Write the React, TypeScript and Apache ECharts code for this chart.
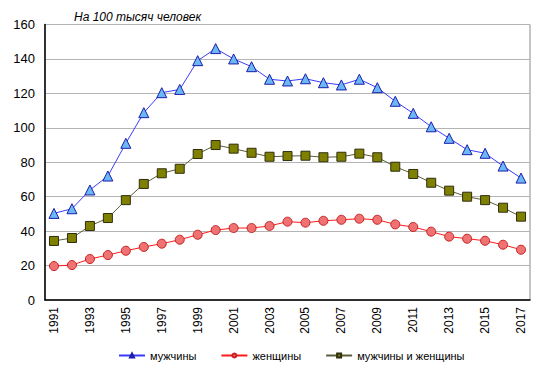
import React, { useEffect, useRef } from "react";
import * as echarts from "echarts";

const years = ["1991","1992","1993","1994","1995","1996","1997","1998","1999","2000","2001","2002","2003","2004","2005","2006","2007","2008","2009","2010","2011","2012","2013","2014","2015","2016","2017"];
const men = [50.3,53,63.9,72,91,108.8,120.4,122.3,139,146,140,135.5,128.2,127.2,128.5,126.2,124.9,128.2,123.3,115.4,108.4,100.6,93.9,87.3,85.2,77.8,70.8];
const women = [19.7,20.3,23.8,26.1,28.6,30.8,32.7,35,37.9,40.6,41.8,41.8,43,45.5,44.9,46,46.6,47.2,46.6,43.9,42.4,39.7,36.8,35.6,34.4,32.1,29.2];
const total = [34.3,36,43,47.6,58,67.4,73.6,76.2,84.8,90,87.9,85.5,83.2,83.6,83.8,82.9,83.2,85,82.9,77.4,73.2,68.1,63.5,60,58,53.6,48.4];
const yTicks = { min: 0, max: 160, interval: 20 };
const title = "На 100 тысяч человек";
const names = ["мужчины", "женщины", "мужчины и женщины"];

export default function App() {
  const ref = useRef<HTMLDivElement>(null);
  useEffect(() => {
    if (!ref.current) return;
    const chart = echarts.init(ref.current, null, { renderer: "svg" });
    const font = "Arial, 'Liberation Sans', sans-serif";
    chart.setOption({
      animation: false,
      backgroundColor: "#ffffff",
      textStyle: { fontFamily: font },
      title: {
        text: title,
        left: 69,
        top: 6,
        textStyle: { fontSize: 12, fontStyle: "italic", fontWeight: "normal", color: "#000", fontFamily: font },
      },
      grid: { left: 45, right: 16, top: 24.5, bottom: 73, show: true, borderColor: "#8c8c8c", borderWidth: 1 },
      legend: {
        bottom: 12,
        left: 118,
        padding: 0,
        itemWidth: 26,
        itemHeight: 5,
        itemGap: 24,
        textStyle: { fontSize: 11, color: "#000", fontFamily: font },
        data: names,
      },
      xAxis: {
        type: "category",
        data: years,
        boundaryGap: true,
        axisLine: { lineStyle: { color: "#000", width: 1.5 } },
        axisTick: { show: false },
        axisLabel: { rotate: 90, interval: 1, fontSize: 12, color: "#000", margin: 7, fontFamily: font },
      },
      yAxis: {
        type: "value",
        min: yTicks.min,
        max: yTicks.max,
        interval: yTicks.interval,
        axisLine: { show: true, lineStyle: { color: "#000", width: 1.5 } },
        axisTick: { show: false },
        axisLabel: { fontSize: 13, color: "#000", margin: 10, fontFamily: font },
        splitLine: { lineStyle: { color: "#b4b4b4", width: 1 } },
      },
      series: [
        {
          name: names[0],
          type: "line",
          data: men,
          symbol: "triangle",
          symbolSize: 10,
          lineStyle: { color: "#3a3aff", width: 1 },
          itemStyle: { color: "#6ab8f5", borderColor: "#1c1ca8", borderWidth: 1 },
          z: 3,
        },
        {
          name: names[1],
          type: "line",
          data: women,
          symbol: "circle",
          symbolSize: 9,
          lineStyle: { color: "#ff1a1a", width: 1 },
          itemStyle: { color: "#f07272", borderColor: "#c42222", borderWidth: 1 },
          z: 3,
        },
        {
          name: names[2],
          type: "line",
          data: total,
          symbol: "rect",
          symbolSize: 9,
          lineStyle: { color: "#5c5c3c", width: 1 },
          itemStyle: { color: "#808000", borderColor: "#2e2e10", borderWidth: 1 },
          z: 3,
        },
      ],
    });
    return () => chart.dispose();
  }, []);
  return <div ref={ref} style={{ position: "absolute", left: 0, top: 0, width: 546, height: 373 }} />;
}
